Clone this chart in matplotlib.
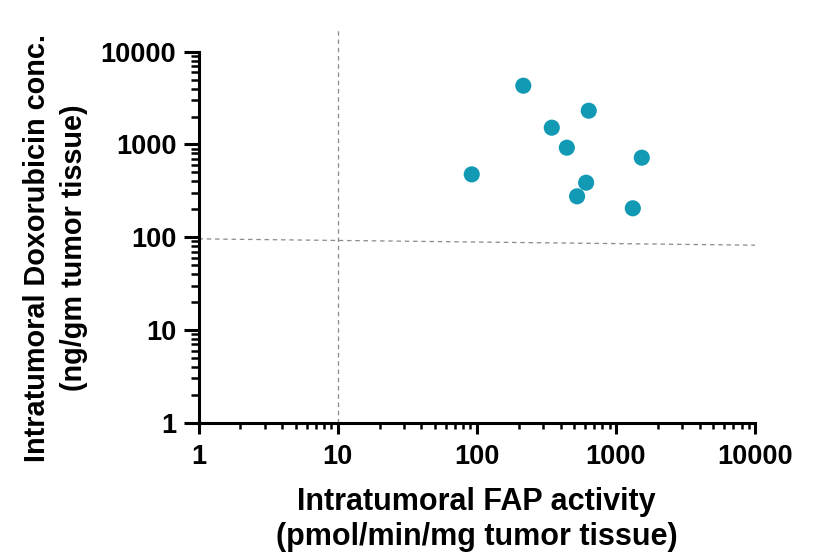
import numpy as np
import matplotlib
matplotlib.use('Agg')
import matplotlib.pyplot as plt
from matplotlib.ticker import LogLocator, FixedLocator, NullFormatter

plt.rcParams['font.family'] = ['Liberation Sans', 'DejaVu Sans']
plt.rcParams['font.weight'] = 'bold'

# FAP activity vs doxorubicin concentration, one point per tumor
fap_activity = [92, 216, 346, 444, 638, 611, 526, 1535, 1323]
dox_conc = [476, 4300, 1516, 923, 2311, 387, 276, 720, 205]

# dashed reference lines
vline_x = [10, 10]
vline_y = [1, 17600]
hline_x = [1, 10000]
hline_y = [96, 82]

major_ticks = [1, 10, 100, 1000, 10000]
tick_labels = ['1', '10', '100', '1000', '10000']

fig = plt.figure(figsize=(8.15, 5.53), dpi=100)
ax = fig.add_axes([0.2436, 0.2356, 0.6828, 0.6709])

dash = (0, (3.6, 3.0))
ax.plot(vline_x, vline_y, color='#8a8a8a', lw=0.9, linestyle=dash, clip_on=False, zorder=1)
ax.plot(hline_x, hline_y, color='#8a8a8a', lw=0.9, linestyle=dash, zorder=1)

ax.scatter(fap_activity, dox_conc, s=135, color='#1299b3', edgecolors='none', zorder=3)

ax.set_xscale('log')
ax.set_yscale('log')
ax.set_xlim(1, 10000)
ax.set_ylim(1, 10000)

for axis in (ax.xaxis, ax.yaxis):
    axis.set_major_locator(FixedLocator(major_ticks))
    axis.set_minor_locator(LogLocator(base=10, subs=np.arange(2, 10), numticks=20))
    axis.set_minor_formatter(NullFormatter())
ax.set_xticklabels(tick_labels)
ax.set_yticklabels(tick_labels)

for side in ('top', 'right'):
    ax.spines[side].set_visible(False)
for side in ('left', 'bottom'):
    ax.spines[side].set_linewidth(2.2)

ax.tick_params(axis='x', which='major', length=7.6, width=2.2, pad=8, labelsize=19.5)
ax.tick_params(axis='x', which='minor', length=4.0, width=1.8)
ax.tick_params(axis='y', which='major', length=11, width=2.2, pad=5, labelsize=19.5)
ax.tick_params(axis='y', which='minor', length=6, width=1.8)

ax.set_xlabel('Intratumoral FAP activity\n(pmol/min/mg tumor tissue)',
              fontsize=22, fontweight='bold', labelpad=12, linespacing=1.2)
ax.set_ylabel('Intratumoral Doxorubicin conc.\n(ng/gm tumor tissue)',
              fontsize=20.8, fontweight='bold', linespacing=1.4)
ax.yaxis.set_label_coords(-0.199, 0.471)

fig.savefig('out.png', dpi=100)
